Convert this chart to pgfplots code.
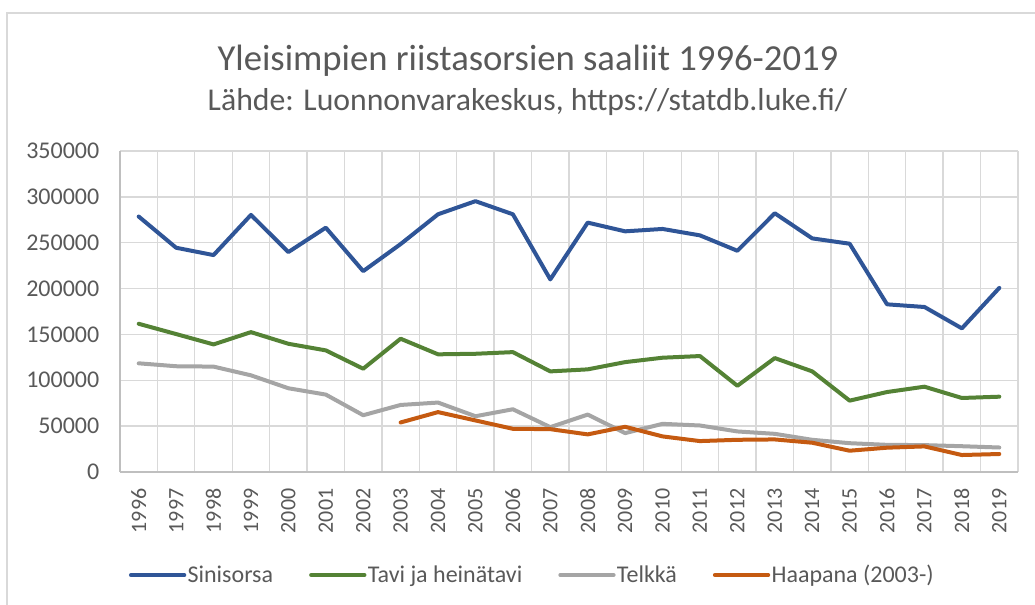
\documentclass[border=0pt]{standalone}
\usepackage{fontspec}
\setmainfont{Carlito}
\usepackage{pgfplots}
\pgfplotsset{compat=1.18}

\definecolor{txt}{HTML}{595959}
\definecolor{gridc}{HTML}{D9D9D9}
\definecolor{axc}{HTML}{BFBFBF}
\definecolor{sini}{HTML}{2F5597}
\definecolor{tavi}{HTML}{548235}
\definecolor{telk}{HTML}{A5A5A5}
\definecolor{haap}{HTML}{C55A11}

\begin{document}
\begin{tikzpicture}
% 1 px = 0.75pt, origin at bottom left
\path[use as bounding box] (0,0) rectangle (776.25pt,453.75pt);
\draw[gridc, line width=1pt] (5.25pt,0) -- (5.25pt,444pt) -- (776.25pt,444pt);

\node[txt, font=\fontsize{27.5}{30}\selectfont] at (396pt,408pt) {Yleisimpien riistasorsien saaliit 1996-2019};
\node[txt, font=\fontsize{23.8}{26}\selectfont] at (395.6pt,377pt) {Lähde: Luonnonvarakeskus, https://statdb.luke.fi/};

\begin{axis}[
  at={(90pt,99.75pt)}, anchor=south west,
  width=673.5pt, height=240.75pt, scale only axis,
  xmin=1995.5, xmax=2019.5,
  ymin=0, ymax=350000,
  xtick={1996,...,2019},
  minor xtick={1995.5,1996.5,...,2019.5},
  ytick={0,50000,...,350000},
  xminorgrids=true, ymajorgrids=true,
  grid style={gridc, line width=1pt},
  minor grid style={gridc, line width=1pt},
  major tick length=0pt, minor tick length=0pt,
  axis line style={axc, line width=1pt},
  axis x line*=bottom, axis y line*=left,
  scaled y ticks=false,
  /pgf/number format/fixed,
  /pgf/number format/precision=0,
  /pgf/number format/1000 sep={},
  /pgf/number format/assume math mode=true,
  yticklabel style={txt, font=\fontsize{18}{20}\selectfont, xshift=-12pt},
  xticklabel style={txt, font=\fontsize{16.5}{18}\selectfont, yshift=-9pt, rotate=90, anchor=east},
  legend columns=4,
  legend style={draw=none, fill=none, at={(0.4588,-0.321)}, anchor=center,
    font=\fontsize{18}{20}\selectfont\color{txt},
    /tikz/every even column/.append style={column sep=26pt},
    nodes={inner sep=1pt}},
  legend image code/.code={\draw[#1] (0pt,0pt) -- (40pt,0pt);},
  every axis plot/.append style={line width=3pt, line join=round, line cap=round},
  clip=false,
]
\addplot[sini] coordinates {
(1996,278500) (1997,244500) (1998,236500) (1999,280300) (2000,239800)
(2001,266400) (2002,219000) (2003,248500) (2004,281000) (2005,295300)
(2006,281000) (2007,210000) (2008,271900) (2009,262400) (2010,265000)
(2011,258000) (2012,241200) (2013,282100) (2014,254700) (2015,248900)
(2016,182800) (2017,179900) (2018,156600) (2019,200700)};
\addlegendentry{Sinisorsa}
\addplot[tavi] coordinates {
(1996,161600) (1997,150400) (1998,139100) (1999,152500) (2000,139800)
(2001,132600) (2002,112600) (2003,145300) (2004,128300) (2005,128900)
(2006,130700) (2007,109700) (2008,111900) (2009,119800) (2010,124600)
(2011,126400) (2012,94000) (2013,124200) (2014,109700) (2015,77800)
(2016,87200) (2017,93000) (2018,80700) (2019,82100)};
\addlegendentry{Tavi ja heinätavi}
\addplot[telk] coordinates {
(1996,118500) (1997,115300) (1998,114900) (1999,105400) (2000,91300)
(2001,84400) (2002,61900) (2003,73100) (2004,75700) (2005,60800)
(2006,68400) (2007,48900) (2008,62600) (2009,42400) (2010,52500)
(2011,50700) (2012,44200) (2013,41600) (2014,35100) (2015,31400)
(2016,29600) (2017,29300) (2018,28100) (2019,26700)};
\addlegendentry{Telkkä}
\addplot[haap] coordinates {
(2003,54000) (2004,65300) (2005,56200) (2006,47100) (2007,46700)
(2008,41000) (2009,49300) (2010,38800) (2011,33700) (2012,35100)
(2013,35500) (2014,31900) (2015,23200) (2016,26500) (2017,27900)
(2018,18500) (2019,19600)};
\addlegendentry{Haapana (2003-)}
\end{axis}
\end{tikzpicture}
\end{document}
